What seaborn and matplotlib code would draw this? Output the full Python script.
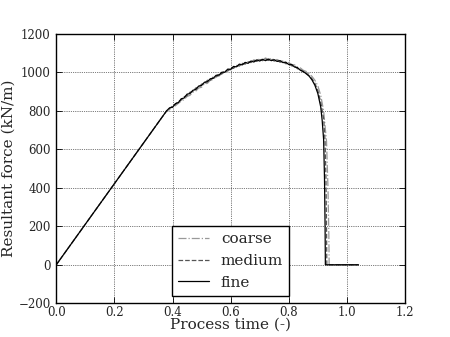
import numpy as np
import pandas as pd
import seaborn as sns
import matplotlib
matplotlib.use('Agg')
import matplotlib.pyplot as plt

# 공통 시간축 (상승 구간)
t_rise = [0.38, 0.39, 0.40, 0.41, 0.42, 0.43, 0.44, 0.45, 0.46, 0.47,
          0.48, 0.49, 0.50, 0.51, 0.52, 0.53, 0.54, 0.55, 0.56, 0.57,
          0.58, 0.59, 0.60, 0.61, 0.62, 0.63, 0.64, 0.65, 0.66, 0.67,
          0.68, 0.69, 0.70, 0.71, 0.72, 0.73, 0.74, 0.75, 0.76, 0.77,
          0.78, 0.79, 0.80, 0.81, 0.82, 0.83, 0.84, 0.85, 0.86, 0.87,
          0.88, 0.89, 0.90]

# coarse mesh
time_coarse = [0.0] + t_rise + [0.91, 0.92, 0.93, 0.935, 0.938, 0.939, 1.04]
force_coarse = [0, 800, 805, 818, 826, 838, 850, 858, 874, 880, 897,
                902, 918, 922, 940, 942, 958, 962, 976, 980, 994,
                996, 1010, 1012, 1024, 1028, 1036, 1042, 1046, 1054, 1054,
                1064, 1060, 1070, 1064, 1074, 1066, 1072, 1064, 1066, 1058,
                1058, 1050, 1050, 1040, 1038, 1026, 1022, 1010, 1004, 992,
                978, 958, 930,
                880, 800, 640, 400, 150, 0, 0]

# medium mesh
time_medium = [0.0] + t_rise + [0.91, 0.92, 0.925, 0.928, 0.93, 0.931, 1.04]
force_medium = [0, 800, 812, 824, 832, 849, 855, 873, 878, 896, 899,
                918, 920, 938, 940, 958, 958, 975, 975, 992, 991,
                1007, 1006, 1022, 1020, 1035, 1032, 1046, 1042, 1054, 1050,
                1061, 1056, 1066, 1060, 1068, 1061, 1067, 1058, 1062, 1052,
                1055, 1044, 1046, 1033, 1032, 1018, 1015, 1000, 996, 982,
                966, 942, 905,
                845, 760, 640, 450, 200, 0, 0]

# fine mesh
time_fine = [0.0] + t_rise + [0.91, 0.915, 0.92, 0.923, 0.925, 0.926, 1.04]
force_fine = [0, 800, 815, 818, 837, 842, 862, 866, 886, 889, 906,
              910, 928, 931, 948, 950, 966, 968, 984, 985, 1000,
              1000, 1016, 1015, 1030, 1028, 1042, 1038, 1051, 1046, 1058,
              1053, 1064, 1058, 1067, 1060, 1068, 1060, 1065, 1056, 1060,
              1050, 1052, 1040, 1040, 1027, 1024, 1010, 1004, 992, 980,
              960, 932, 890,
              820, 750, 650, 450, 200, 0, 0]

sns.set_style("ticks")
plt.rcParams['font.family'] = ['DejaVu Serif']
plt.rcParams['xtick.direction'] = 'in'
plt.rcParams['ytick.direction'] = 'in'
plt.rcParams['xtick.top'] = True
plt.rcParams['ytick.right'] = True

fig, ax = plt.subplots(figsize=(4.5, 3.37), dpi=100)
fig.subplots_adjust(left=0.125, right=0.9, bottom=0.1, top=0.9)

sns.lineplot(x=time_coarse, y=force_coarse, ax=ax, sort=False, estimator=None,
             color='#999999', linestyle='-.', linewidth=0.9, label='coarse')
sns.lineplot(x=time_medium, y=force_medium, ax=ax, sort=False, estimator=None,
             color='#555555', linestyle='--', linewidth=0.9, label='medium')
sns.lineplot(x=time_fine, y=force_fine, ax=ax, sort=False, estimator=None,
             color='black', linestyle='-', linewidth=0.9, label='fine')

ax.set_xlim(0, 1.2)
ax.set_ylim(-200, 1200)
ax.set_xticks([0.0, 0.2, 0.4, 0.6, 0.8, 1.0, 1.2])
ax.set_yticks([-200, 0, 200, 400, 600, 800, 1000, 1200])
ax.grid(True, linestyle=':', color='black', linewidth=0.5)
ax.tick_params(labelsize=8.5, length=4, width=0.6, color='black', pad=4)
ax.tick_params(axis='x', pad=2)
for s in ax.spines.values():
    s.set_color('black')
    s.set_linewidth(1.0)

ax.set_xlabel('Process time (-)', fontsize=11, labelpad=-1)
ax.set_ylabel('Resultant force (kN/m)', fontsize=11, labelpad=2)

ax.legend(loc='lower center', fontsize=11, frameon=True, fancybox=False,
          edgecolor='black', framealpha=1, borderaxespad=0.5)

fig.savefig('out.png', dpi=100)
